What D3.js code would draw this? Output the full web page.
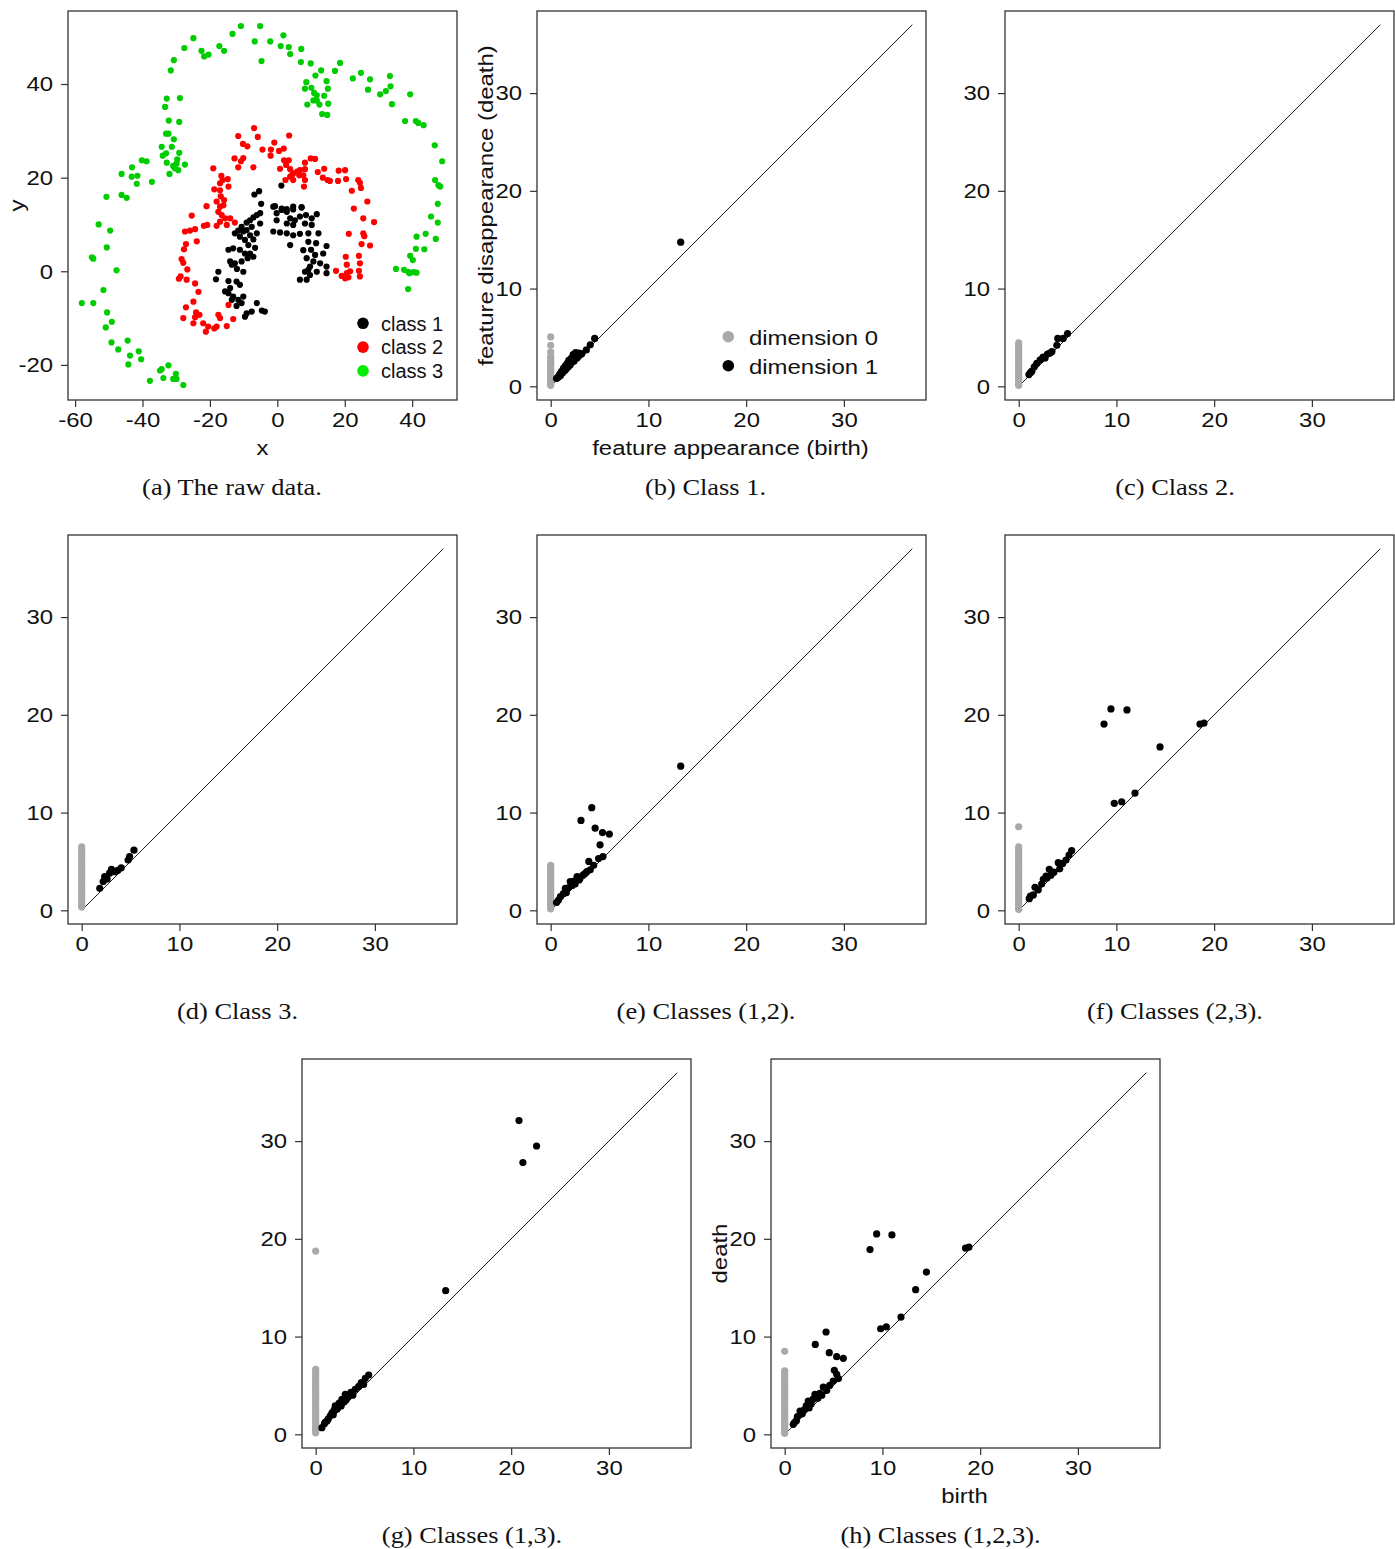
<!DOCTYPE html>
<html><head><meta charset="utf-8">
<script src="https://cdn.jsdelivr.net/npm/d3@7"></script>
<style>body{margin:0;background:#fff}</style>
</head><body>
<svg id="chart" width="1395" height="1549"></svg>
<script>
// ---------- DATA ----------
// (a) raw data, [x, y]
const class1 = [[-6.8,16.4],[-5.4,17.1],[1.2,18.3],[-4.8,14.4],[-0.7,13.9],[1.3,13.4],[2.8,13.3],[4.7,13.2],[7.2,13.6],[-5.1,12.4],[-6.1,12.0],[-7.1,11.5],[-8.1,10.9],[-9.1,10.4],[-10.6,9.5],[-11.6,8.7],[-10.1,8.5],[-9.1,8.8],[-7.6,9.5],[-5.1,10.2],[-6.1,8.1],[-8.1,7.7],[-7.1,6.8],[-9.6,6.7],[-11.1,7.4],[-12.6,8.1],[-14.5,4.6],[-13.1,4.9],[-11.1,4.6],[-9.6,3.8],[-8.1,3.8],[-7.1,3.1],[-8.8,2.8],[-10.6,2.1],[-12.6,1.7],[-14.0,2.1],[-13.5,1.4],[-10.1,-0.1],[-17.5,-0.1],[-18.2,-1.7],[-14.5,-2.1],[-12.1,-2.2],[-11.1,-2.9],[-14.0,-3.6],[-15.5,-4.3],[-14.5,-4.7],[-13.1,-5.4],[-11.6,-6.1],[-10.1,-5.4],[-13.5,-6.1],[-10.6,-6.8],[-12.1,-7.4],[-9.1,-9.0],[-7.6,-8.6],[-6.1,-6.8],[-4.6,-8.4],[-3.7,-8.6],[-9.6,-9.7],[-1.2,13.8],[-0.2,12.4],[1.3,13.1],[2.8,12.7],[4.7,13.8],[7.2,13.7],[3.8,11.3],[5.2,10.9],[6.7,11.7],[8.5,12.0],[10.2,11.3],[11.7,12.2],[-0.2,10.9],[2.8,10.2],[4.7,9.9],[8.2,10.2],[10.2,9.9],[-1.2,8.5],[0.8,8.3],[2.8,8.1],[4.7,7.7],[6.7,8.0],[9.2,8.1],[12.2,8.1],[3.8,5.6],[9.2,6.3],[11.5,6.0],[14.6,5.4],[13.6,3.8],[11.2,3.5],[8.7,2.8],[10.7,2.1],[12.7,1.7],[9.7,1.0],[9.2,0.3],[11.7,-0.1],[14.6,1.0],[14.6,-0.4],[6.7,-1.8],[8.7,-1.8],[9.7,-0.8],[8.2,-0.1],[-8.6,5.6],[-6.6,5.0],[-12.0,0.5],[7.7,4.5],[10.0,4.6]];
const class2 = [[-6.9,30.6],[-11.6,28.9],[-5.8,28.7],[-10.2,27.2],[-8.9,26.7],[3.5,29.0],[-0.9,27.5],[1.9,26.2],[-1.9,26.0],[-4.4,26.0],[0.5,25.7],[-2.0,24.7],[-12.7,24.1],[-10.1,24.2],[-10.8,23.5],[-11.6,22.2],[-7.1,22.2],[-19.0,22.0],[-16.6,20.4],[-16.2,19.5],[-14.7,19.7],[-17.0,18.8],[-14.5,18.1],[-18.7,17.5],[-17.0,17.3],[2.0,23.7],[3.4,23.7],[2.6,22.7],[0.8,21.9],[3.8,21.8],[4.7,20.9],[5.9,21.3],[6.7,21.6],[8.2,21.8],[4.3,20.5],[6.5,20.5],[7.7,20.5],[4.7,19.5],[8.2,19.5],[3.8,20.2],[2.4,19.5],[7.9,18.1],[8.2,23.2],[9.9,24.1],[11.2,24.0],[12.0,21.2],[13.9,21.9],[13.5,20.0],[14.9,19.5],[15.6,19.3],[18.2,21.5],[20.1,21.6],[18.0,19.3],[20.4,19.7],[24.0,19.5],[24.5,18.9],[22.1,17.2],[24.8,17.8],[26.7,14.9],[22.7,13.4],[-21.0,13.9],[-18.0,14.9],[-17.0,13.8],[-16.0,14.1],[-17.5,12.7],[-16.5,12.0],[-15.5,11.3],[-17.0,10.6],[-15.0,9.9],[-18.0,9.7],[-14.0,11.3],[-12.6,10.4],[-25.4,11.9],[-21.8,9.7],[-20.8,9.9],[-27.4,8.5],[-25.9,8.7],[-24.4,9.0],[-23.9,6.4],[-27.1,5.8],[-27.7,4.7],[-28.4,2.6],[-27.9,1.8],[-26.7,0.4],[-29.2,-1.6],[-28.7,-1.1],[-26.9,-1.8],[-24.4,-2.6],[-23.4,-4.4],[-24.9,-6.5],[-27.1,-7.7],[-24.1,-8.8],[-24.4,-9.8],[-23.1,-9.3],[-27.9,-10.0],[-24.9,-11.1],[-22.0,-11.1],[-20.5,-11.8],[-21.2,-12.9],[-18.7,-12.2],[-18.0,-11.8],[-17.5,-9.3],[-17.0,-10.0],[-15.0,-11.7],[-13.1,-10.2],[-14.5,-7.2],[25.5,11.3],[28.7,10.5],[21.2,8.0],[25.5,8.1],[25.8,7.5],[25.0,5.8],[27.5,5.5],[24.2,3.3],[20.3,3.1],[20.6,1.4],[24.5,1.7],[17.4,0.1],[19.1,-1.0],[20.6,-0.4],[21.6,0.0],[21.1,-1.3],[20.1,-1.5],[24.2,0.1],[24.5,-1.1],[-16.8,16.0],[-15.8,15.2]];
const class3 = [[-50.7,15.9],[-46.2,16.3],[-44.7,15.7],[-46.2,20.8],[-43.2,20.2],[-41.5,20.4],[-41.7,18.7],[-43.1,22.2],[-40.2,23.7],[-38.8,23.5],[-37.2,19.1],[-34.3,26.6],[-34.0,24.7],[-33.0,25.2],[-32.8,23.2],[-32.0,20.8],[-31.3,26.6],[-30.7,28.2],[-33.0,29.4],[-32.3,29.4],[-30.9,22.5],[-30.4,22.0],[-29.9,23.0],[-29.7,23.9],[-29.1,25.3],[-29.4,21.6],[-27.4,22.8],[-32.2,32.2],[-29.1,31.9],[-32.8,36.9],[-33.3,35.1],[-28.9,37.0],[-31.6,42.9],[-30.7,45.1],[-27.6,47.7],[-24.9,49.8],[-22.5,47.1],[-21.7,45.9],[-20.4,46.3],[-17.2,48.1],[-15.8,47.1],[-13.3,50.7],[-10.8,52.4],[-6.7,49.1],[-5.1,52.4],[-4.7,44.9],[-2.1,49.1],[1.8,50.4],[1.0,48.1],[3.4,47.9],[3.8,46.4],[7.1,47.5],[7.0,44.7],[9.9,44.4],[8.6,40.4],[8.2,39.0],[10.1,39.2],[11.3,41.8],[13.0,42.9],[14.6,40.6],[15.0,39.0],[10.9,38.1],[11.7,37.6],[13.9,37.5],[10.7,36.5],[11.7,36.5],[8.9,35.6],[12.5,35.6],[15.1,35.8],[13.3,33.6],[14.8,33.4],[17.1,42.8],[18.6,44.5],[22.4,41.2],[24.8,42.4],[27.5,41.0],[26.9,38.8],[30.5,37.8],[32.2,38.5],[33.6,39.5],[33.4,41.7],[34.0,35.7],[39.4,37.8],[37.9,32.1],[41.1,32.1],[41.8,31.7],[43.4,31.2],[46.7,26.9],[48.9,23.5],[46.8,19.5],[47.8,18.4],[48.3,18.1],[47.6,14.4],[-53.0,10.0],[-49.6,8.7],[-50.6,5.1],[-55.0,3.0],[-54.6,2.7],[-47.7,0.2],[-51.6,-4.0],[-58.0,-6.8],[-54.6,-6.8],[-50.5,-8.8],[-50.9,-12.0],[-49.1,-10.8],[-49.2,-15.2],[-47.2,-16.7],[-44.4,-14.8],[-43.7,-18.0],[-44.2,-19.9],[-41.1,-17.1],[-40.4,-18.8],[-37.8,-23.4],[-34.8,-21.2],[-34.3,-20.9],[-32.3,-20.1],[-33.8,-22.8],[-30.1,-21.9],[-30.9,-23.0],[-29.9,-23.0],[-27.9,-24.3],[45.6,11.7],[47.6,10.4],[44.0,8.0],[47.0,6.9],[41.3,7.4],[41.1,4.8],[43.6,4.7],[39.4,3.3],[40.2,2.4],[35.2,0.5],[37.6,0.3],[38.8,-0.1],[39.2,-0.4],[40.4,-0.2],[41.3,-0.3],[38.8,-3.8]];
const rawXTicks = [-60,-40,-20,0,20,40];
const rawYTicks = [-20,0,20,40];
const classNames = ["class 1","class 2","class 3"];

// persistence diagrams: dimension 0 deaths (birth = 0), dimension 1 [birth, death]
const pdTicks = [0,10,20,30];
const diagMax = 37;
const dimNames = ["dimension 0","dimension 1"];

const dim0B = [5.05,4.2,3.5,3.05,2.85,2.65,2.45,2.25,2.05,1.85,1.65,1.45,1.25,1.05,0.85,0.65,0.45,0.25,0.1];
const dim1B = [[13.3,14.75],[4.5,4.9],[4.05,4.25],[3.65,3.72],[2.9,3.4],[2.55,3.45],[2.3,3.25],[2.5,3.0],[2.1,2.85],[1.85,2.65],[2.2,2.5],[1.7,2.35],[1.5,2.1],[1.8,2.0],[1.3,1.85],[1.5,1.7],[1.1,1.5],[1.2,1.35],[0.9,1.2],[1.0,1.1],[0.8,0.95],[0.6,0.8],[2.7,2.9],[3.0,3.2],[2.4,2.6],[1.6,1.8],[0.7,0.9],[3.2,3.35],[1.4,1.6],[2.0,2.2],[2.8,3.05],[1.0,1.3]];

const dim0C = [4.45,4.2,3.95,3.7,3.45,3.2,2.95,2.7,2.45,2.2,1.95,1.7,1.45,1.2,0.95,0.7,0.45,0.2,0.1];
const dim1C = [[5.0,5.4],[4.55,4.9],[4.0,4.9],[3.9,4.2],[3.4,3.55],[2.95,3.3],[2.5,3.0],[2.2,2.7],[1.85,2.35],[1.6,2.0],[1.35,1.55],[1.05,1.2],[3.2,3.4],[2.7,2.9],[1.2,1.4]];

const dim0D = [6.5,6.25,6.0,5.75,5.5,5.25,5.0,4.75,4.5,4.25,4.0,3.75,3.5,3.25,3.0,2.75,2.5,2.25,2.0,1.75,1.5,1.25,1.0,0.75,0.5,0.35];
const dim1D = [[5.35,6.15],[4.9,5.5],[4.75,5.15],[4.05,4.35],[3.4,3.95],[3.05,4.2],[2.85,3.8],[2.35,3.45],[2.2,2.95],[1.85,2.25],[3.7,4.1],[2.6,3.2]];

const dim0E = [4.6,4.35,4.1,3.85,3.6,3.35,3.1,2.85,2.6,2.35,2.1,1.85,1.6,1.35,1.1,0.85,0.6,0.35,0.15];
const dim1E = [[13.3,14.75],[4.2,10.5],[3.1,9.2],[4.55,8.4],[5.3,7.95],[6.0,7.8],[5.05,6.7],[3.9,5.0],[4.9,5.3],[5.35,5.5],[4.05,4.15],[3.7,3.95],[2.7,3.45],[2.0,2.95],[1.5,2.25],[1.0,1.4],[0.8,1.05],[3.3,3.6],[3.0,3.25],[2.4,3.0],[2.2,2.55],[1.8,2.3],[1.3,1.7],[2.9,3.1],[3.5,3.75],[4.4,4.6],[1.6,1.8],[0.6,0.8],[2.5,2.7]];

const dim0F = [8.55,6.5,6.25,6.0,5.75,5.5,5.25,5.0,4.75,4.5,4.25,4.0,3.75,3.5,3.25,3.0,2.75,2.5,2.25,2.0,1.75,1.5,1.25,1.0,0.75,0.5,0.25,0.1];
const dim1F = [[9.44,20.6],[11.08,20.5],[8.73,19.06],[14.46,16.72],[18.55,19.06],[18.96,19.16],[11.9,12.0],[10.54,11.11],[9.78,10.95],[5.42,6.1],[5.15,5.66],[4.84,5.15],[4.05,4.87],[4.2,4.25],[3.13,4.19],[3.3,3.6],[2.52,3.17],[2.35,2.69],[1.67,2.35],[2.0,2.1],[1.08,1.19],[1.5,1.57],[2.9,3.3],[3.6,3.9],[4.5,4.8],[1.2,1.45],[2.8,3.5]];

const dim0G = [18.75,6.65,6.4,6.15,5.9,5.65,5.4,5.15,4.9,4.65,4.4,4.15,3.9,3.65,3.4,3.15,2.9,2.65,2.4,2.15,1.9,1.65,1.4,1.15,0.9,0.65,0.4,0.16];
const dim1G = [[20.8,32.1],[22.6,29.5],[21.2,27.8],[13.3,14.7],[5.42,6.07],[5.08,5.73],[4.67,5.28],[4.05,4.6],[3.03,4.09],[2.69,3.58],[2.0,2.9],[1.67,2.2],[1.16,1.36],[0.64,0.68],[4.4,4.9],[3.6,4.3],[3.3,3.8],[2.9,3.3],[2.4,3.2],[2.2,2.6],[1.9,2.5],[1.5,1.9],[1.3,1.6],[0.9,1.1],[3.8,4.0],[2.6,2.9],[1.8,2.0],[1.0,1.25],[4.9,5.1],[3.1,3.5]];

const dim0H = [8.5,6.5,6.25,6.0,5.75,5.5,5.25,5.0,4.75,4.5,4.25,4.0,3.75,3.5,3.25,3.0,2.75,2.5,2.25,2.0,1.75,1.5,1.25,1.0,0.75,0.5,0.25,0.1];
const dim1H = [[9.41,20.5],[10.97,20.4],[8.73,18.9],[14.5,16.6],[13.4,14.8],[18.5,19.06],[18.85,19.16],[11.9,12.0],[10.4,11.0],[9.82,10.8],[4.23,10.47],[3.13,9.2],[4.56,8.35],[5.32,7.94],[6.0,7.78],[5.08,6.55],[5.32,6.14],[4.97,5.45],[3.95,4.84],[3.1,4.09],[2.41,3.4],[1.57,2.38],[0.88,1.02],[5.5,5.7],[4.6,5.0],[4.3,4.5],[3.6,4.2],[3.4,3.7],[2.9,3.6],[2.7,3.1],[2.2,2.9],[2.0,2.5],[1.8,2.1],[1.3,1.8],[1.2,1.4],[1.0,1.2],[2.5,2.7],[3.8,4.0]];

// ---------- LAYOUT ----------
const SIZE = 389;
const SX = 1.14;   // horizontal stretch of the sans labels
const CX = 1.1;    // horizontal stretch of the serif captions
const sans = "'Liberation Sans', Arial, Helvetica, sans-serif";
const serif = "'Liberation Serif', 'Times New Roman', serif";
const svg = d3.select("#chart");

function drawAxes(g, x, y, xt, yt, left, top) {
  const fmt = d => String(d);
  const xa = g.append("g").attr("transform", `translate(0,${top + SIZE})`)
    .call(d3.axisBottom(x).tickValues(xt).tickFormat(fmt).tickSize(7).tickPadding(5).tickSizeOuter(0));
  const ya = g.append("g").attr("transform", `translate(${left},0)`)
    .call(d3.axisLeft(y).tickValues(yt).tickFormat(fmt).tickSize(7).tickPadding(8).tickSizeOuter(0));
  [xa, ya].forEach(a => {
    a.select(".domain").remove();
    a.selectAll("line").attr("stroke", "#333").attr("stroke-width", 1.2);
    a.selectAll("text").attr("font-family", sans).attr("font-size", 21).attr("fill", "#111")
      .attr("transform", `scale(${SX},1)`);
  });
  ya.selectAll("text").attr("x", -15 / SX);
  g.append("rect").attr("x", left).attr("y", top).attr("width", SIZE).attr("height", SIZE)
    .attr("fill", "none").attr("stroke", "#333").attr("stroke-width", 1.3);
}

function sansText(g, x, y, rot, txt) {
  g.append("text").attr("transform", `translate(${x},${y}) rotate(${rot}) scale(${SX},1)`)
    .attr("text-anchor", "middle").attr("font-family", sans).attr("font-size", 21)
    .attr("fill", "#111").text(txt);
}

function caption(text, cx, by) {
  svg.append("text").attr("transform", `translate(${cx},${by}) scale(${CX},1)`).attr("text-anchor", "middle")
    .attr("font-family", serif).attr("font-size", 24).attr("fill", "#111").text(text);
}

// ---------- (a) raw data ----------
(function () {
  const left = 68, top = 11;
  const g = svg.append("g");
  const x = d3.scaleLinear().domain([-62.1, 53.3]).range([left, left + SIZE]);
  const y = d3.scaleLinear().domain([-27.5, 55.6]).range([top + SIZE, top]);
  const cols = ["#000000", "#ff0000", "#00cd00"];
  const legCols = ["#000000", "#ff0000", "#00ee00"];
  [class1, class2, class3].forEach((pts, i) => {
    g.append("g").selectAll("circle").data(pts).join("circle")
      .attr("cx", d => x(d[0])).attr("cy", d => y(d[1])).attr("r", 3.1).attr("fill", cols[i]);
  });
  drawAxes(g, x, y, rawXTicks, rawYTicks, left, top);
  sansText(g, left + SIZE / 2, 455, 0, "x");
  sansText(g, 23.7, top + SIZE / 2, -90, "y");
  classNames.forEach((n, i) => {
    g.append("circle").attr("cx", 363).attr("cy", 323.3 + i * 23.8).attr("r", 5.8).attr("fill", legCols[i]);
    g.append("text").attr("x", 381).attr("y", 330.5 + i * 23.8).attr("font-family", sans)
      .attr("font-size", 20).attr("fill", "#111").text(n);
  });
  caption("(a) The raw data.", 232, 495);
})();

// ---------- persistence diagrams ----------
const panels = [
  {cap: "(b) Class 1.", d0: dim0B, d1: dim1B, left: 537, top: 11, cx: 705.5, cy: 495, labels: "full", legend: true},
  {cap: "(c) Class 2.", d0: dim0C, d1: dim1C, left: 1005, top: 11, cx: 1175, cy: 495},
  {cap: "(d) Class 3.", d0: dim0D, d1: dim1D, left: 68, top: 535, cx: 237.5, cy: 1019},
  {cap: "(e) Classes (1,2).", d0: dim0E, d1: dim1E, left: 537, top: 535, cx: 706, cy: 1019},
  {cap: "(f) Classes (2,3).", d0: dim0F, d1: dim1F, left: 1005, top: 535, cx: 1175, cy: 1019},
  {cap: "(g) Classes (1,3).", d0: dim0G, d1: dim1G, left: 302, top: 1059, cx: 472, cy: 1543},
  {cap: "(h) Classes (1,2,3).", d0: dim0H, d1: dim1H, left: 771, top: 1059, cx: 940.5, cy: 1543, labels: "short"}
];

panels.forEach(p => {
  const g = svg.append("g");
  const x = d3.scaleLinear().domain([-1.4, 38.4]).range([p.left, p.left + SIZE]);
  const y = d3.scaleLinear().domain([-1.4, 38.4]).range([p.top + SIZE, p.top]);
  g.append("line").attr("x1", x(0)).attr("y1", y(0)).attr("x2", x(diagMax)).attr("y2", y(diagMax))
    .attr("stroke", "#000").attr("stroke-width", 0.9);
  g.append("g").selectAll("circle").data(p.d0).join("circle")
    .attr("cx", x(0)).attr("cy", d => y(d)).attr("r", 3.6).attr("fill", "#a9a9a9");
  g.append("g").selectAll("circle").data(p.d1).join("circle")
    .attr("cx", d => x(d[0])).attr("cy", d => y(d[1])).attr("r", 3.6).attr("fill", "#000");
  drawAxes(g, x, y, pdTicks, pdTicks, p.left, p.top);
  if (p.labels) {
    const xl = p.labels === "full" ? "feature appearance (birth)" : "birth";
    const yl = p.labels === "full" ? "feature disappearance (death)" : "death";
    sansText(g, p.left + SIZE / 2 - 1, p.top + SIZE + 55, 0, xl);
    sansText(g, p.left - 44.3, p.top + SIZE / 2, -90, yl);
  }
  if (p.legend) {
    const lc = ["#a9a9a9", "#000"];
    dimNames.forEach((n, i) => {
      g.append("circle").attr("cx", 728.3).attr("cy", 336.7 + i * 29).attr("r", 5.8).attr("fill", lc[i]);
      g.append("text").attr("transform", `translate(749,${344.5 + i * 29}) scale(${SX},1)`)
        .attr("font-family", sans).attr("font-size", 21).attr("fill", "#111").text(n);
    });
  }
  caption(p.cap, p.cx, p.cy);
});
</script>
</body></html>
